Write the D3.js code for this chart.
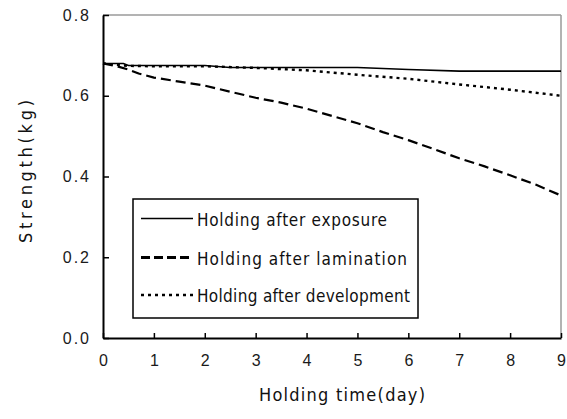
<!DOCTYPE html>
<html>
<head>
<meta charset="utf-8">
<script src="https://cdn.jsdelivr.net/npm/d3@7"></script>
<style>
  html, body { margin: 0; padding: 0; background: #fff; }
  svg { display: block; }
</style>
</head>
<body>
<svg id="chart" width="567" height="419"></svg>
<script>
// Holding time (days) and tensile strength (kg) for three holding conditions
const exposureDays = [0, 0.4, 0.5, 1, 2, 2.5, 3, 4, 5, 6, 7, 8, 9];
const exposureStrength = [0.68, 0.68, 0.675, 0.675, 0.675, 0.67, 0.67, 0.67, 0.67, 0.665, 0.661, 0.661, 0.661];

const laminationDays = [0, 0.3, 0.5, 0.7, 1, 1.5, 2, 2.5, 3, 3.5, 4, 4.5, 5, 5.5, 6, 6.5, 7, 7.5, 8, 8.5, 9];
const laminationStrength = [0.68, 0.672, 0.665, 0.655, 0.645, 0.635, 0.625, 0.61, 0.595, 0.583, 0.568, 0.55, 0.532, 0.51, 0.49, 0.468, 0.445, 0.425, 0.403, 0.38, 0.353];

const developmentDays = [0, 0.5, 1, 2, 3, 4, 5, 6, 7, 8, 9];
const developmentStrength = [0.68, 0.674, 0.673, 0.673, 0.669, 0.663, 0.652, 0.642, 0.628, 0.615, 0.6];

const seriesNames = ["Holding after exposure", "Holding after lamination", "Holding after development"];
const xTicks = [0, 1, 2, 3, 4, 5, 6, 7, 8, 9];
const yTicks = [0.0, 0.2, 0.4, 0.6, 0.8];

const svg = d3.select("#chart");
const plotLeft = 103, plotRight = 561, plotTop = 15, plotBottom = 338;

const x = d3.scaleLinear().domain([0, 9]).range([plotLeft, plotRight]);
const y = d3.scaleLinear().domain([0, 0.8]).range([plotBottom, plotTop]);

const condensed = "'Liberation Sans Narrow', 'DejaVu Sans Condensed', 'Liberation Sans', sans-serif";

// frame: grey top/right, black left/bottom axes
svg.append("line").attr("x1", plotLeft).attr("x2", plotRight).attr("y1", plotTop).attr("y2", plotTop)
  .attr("stroke", "#9a9a9a").attr("stroke-width", 1.5);
svg.append("line").attr("x1", plotRight).attr("x2", plotRight).attr("y1", plotTop).attr("y2", plotBottom)
  .attr("stroke", "#9a9a9a").attr("stroke-width", 1.5);

const yAxis = d3.axisLeft(y).tickValues(yTicks).tickFormat(d3.format(".1f"))
  .tickSizeInner(-6).tickSizeOuter(0).tickPadding(14);
const gy = svg.append("g").attr("transform", `translate(${plotLeft},0)`).call(yAxis);

const xAxis = d3.axisBottom(x).tickValues(xTicks).tickFormat(d3.format("d"))
  .tickSizeInner(-5).tickSizeOuter(0).tickPadding(17);
const gx = svg.append("g").attr("transform", `translate(0,${plotBottom})`).call(xAxis);

[gx, gy].forEach(g => {
  g.select(".domain").attr("stroke", "#000").attr("stroke-width", 2);
  g.selectAll(".tick line").attr("stroke", "#000").attr("stroke-width", 1.5);
  g.selectAll(".tick text").attr("fill", "#1a1a1a")
    .style("font-family", "'Liberation Sans', Arial, sans-serif").style("font-size", "16px");
});
gy.selectAll(".tick text").style("letter-spacing", "2px").attr("dx", "2px");

// series lines
const line = d3.line().x(d => x(d[0])).y(d => y(d[1]));
const series = [
  { days: exposureDays, vals: exposureStrength, dash: null, width: 1.6 },
  { days: laminationDays, vals: laminationStrength, dash: "10,5", width: 2.2 },
  { days: developmentDays, vals: developmentStrength, dash: "3,4", width: 2.4 }
];
series.forEach(s => {
  svg.append("path")
    .datum(s.days.map((d, i) => [d, s.vals[i]]))
    .attr("d", line)
    .attr("fill", "none")
    .attr("stroke", "#000")
    .attr("stroke-width", s.width)
    .attr("stroke-dasharray", s.dash);
});

// legend
const legend = svg.append("g");
legend.append("rect").attr("x", 133).attr("y", 199).attr("width", 285).attr("height", 119)
  .attr("fill", "#fff").attr("stroke", "#000").attr("stroke-width", 1.5);
const rowY = [218.5, 257.5, 295];
const textWidths = [190, 210, 213];
const legendStyles = [
  { dash: null, width: 1.6 },
  { dash: "9,4", width: 2.8 },
  { dash: "3,4", width: 2.6 }
];
seriesNames.forEach((name, i) => {
  legend.append("line").attr("x1", 141).attr("x2", 193).attr("y1", rowY[i]).attr("y2", rowY[i])
    .attr("stroke", "#000").attr("stroke-width", legendStyles[i].width)
    .attr("stroke-dasharray", legendStyles[i].dash);
  legend.append("text").attr("x", 197).attr("y", rowY[i] + 7)
    .attr("textLength", textWidths[i]).attr("lengthAdjust", "spacing")
    .style("font-family", condensed).style("font-size", "17px").attr("fill", "#111")
    .text(name);
});

// axis titles
svg.append("text").attr("x", 259).attr("y", 401)
  .attr("textLength", 166).attr("lengthAdjust", "spacing")
  .style("font-family", condensed).style("font-size", "18px").attr("fill", "#111")
  .text("Holding time(day)");

svg.append("text").attr("transform", "translate(32,243) rotate(-90)")
  .attr("textLength", 143).attr("lengthAdjust", "spacing")
  .style("font-family", condensed).style("font-size", "18px").attr("fill", "#111")
  .text("Strength(kg)");
</script>
</body>
</html>
